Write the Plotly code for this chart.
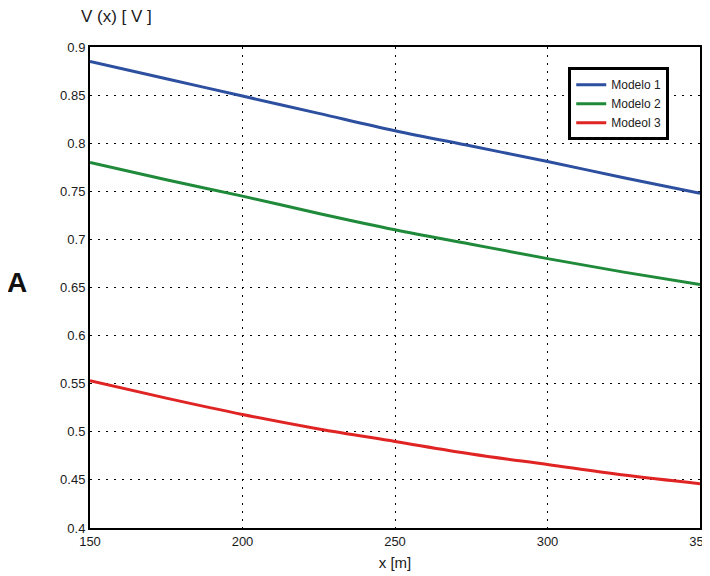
import plotly.graph_objects as go

x_m = [150, 175, 200, 225, 250, 275, 300, 325, 350]
modelo1 = [0.885, 0.867, 0.849, 0.831, 0.813, 0.797, 0.781, 0.764, 0.748]
modelo2 = [0.780, 0.762, 0.745, 0.727, 0.710, 0.695, 0.680, 0.666, 0.653]
modelo3 = [0.553, 0.535, 0.518, 0.503, 0.490, 0.477, 0.466, 0.455, 0.446]
names = ["Modelo 1", "Modelo 2", "Modeol 3"]
colors = ["#2d4f9f", "#1f8a3a", "#e02424"]
x_ticks = [150, 200, 250, 300, 350]
y_ticks = [0.4, 0.45, 0.5, 0.55, 0.6, 0.65, 0.7, 0.75, 0.8, 0.85, 0.9]

fig = go.Figure()
for ys, n, c in zip([modelo1, modelo2, modelo3], names, colors):
    fig.add_trace(go.Scatter(x=x_m, y=ys, mode="lines", name=n,
                             line=dict(color=c, width=3, shape="spline")))

font = "Liberation Sans, Arial, sans-serif"
fig.update_layout(
    width=702, height=568,
    margin=dict(l=82, r=10, t=39, b=48, autoexpand=False),
    paper_bgcolor="white", plot_bgcolor="white",
    font=dict(family=font, size=12, color="#222"),
    showlegend=True,
    legend=dict(x=0.784, y=0.958, xanchor="left", yanchor="top",
                bgcolor="white", bordercolor="black", borderwidth=3,
                font=dict(size=12, color="#222"), tracegroupgap=0,
                itemwidth=30),
    xaxis=dict(range=[150, 350], tickvals=x_ticks, ticktext=[str(v) for v in x_ticks],
               showgrid=True, gridcolor="black", griddash="2px,6px", gridwidth=1,
               showline=True, linecolor="black", linewidth=2, mirror=True,
               ticks="", tickfont=dict(size=13, color="#1a1a1a"), zeroline=False,
               automargin=False, ticklabeloverflow="allow",
               title=dict(text="x [m]", font=dict(size=15, color="#1a1a1a"), standoff=10)),
    yaxis=dict(range=[0.4, 0.9], tickvals=y_ticks, ticktext=[f"{v:g}" for v in y_ticks],
               showgrid=True, gridcolor="black", griddash="2px,6px", gridwidth=1,
               showline=True, linecolor="black", linewidth=2, mirror=True,
               ticks="", tickfont=dict(size=13, color="#1a1a1a"), zeroline=False,
               automargin=False, ticklabeloverflow="allow"),
)
fig.add_annotation(text="V (x) [ V ]", xref="paper", yref="paper", x=-0.018, y=1.04,
                   xanchor="left", yanchor="bottom", showarrow=False,
                   font=dict(size=17, color="#1a1a1a", family=font))
fig.add_annotation(text="<b>A</b>", xref="paper", yref="paper", x=-0.12, y=0.51,
                   xanchor="center", yanchor="middle", showarrow=False,
                   font=dict(size=28, color="#111", family=font))
fig.write_html("out.html")
